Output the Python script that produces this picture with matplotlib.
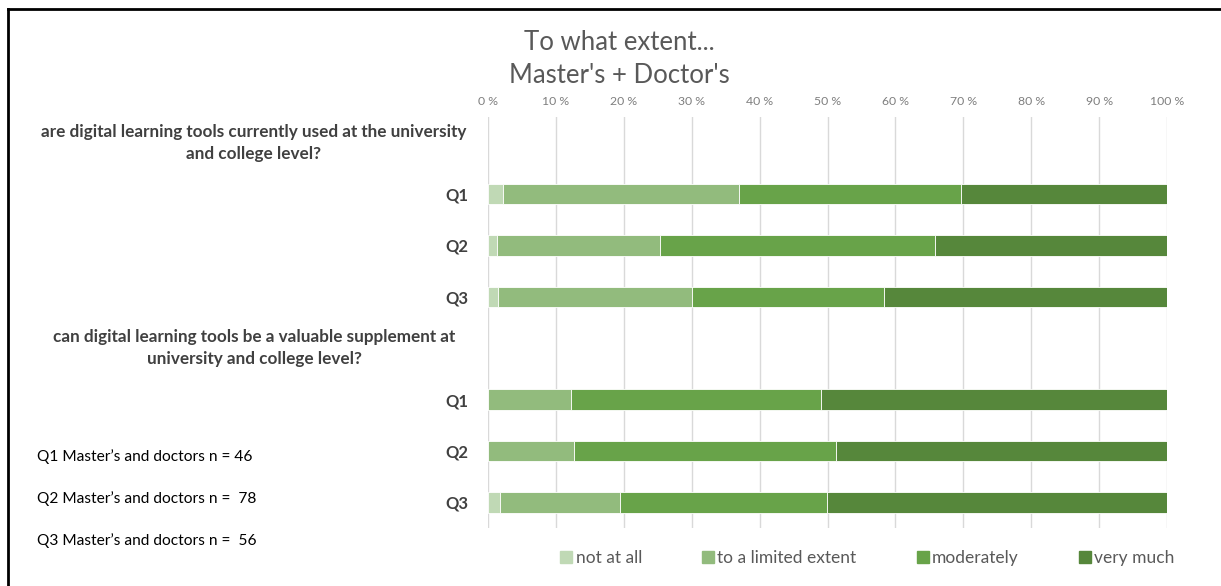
import matplotlib
matplotlib.use("Agg")
from matplotlib import pyplot as plt
from matplotlib.lines import Line2D
from matplotlib.transforms import blended_transform_factory

plt.rcParams['font.family'] = ['Lato', 'DejaVu Sans']

# data (percent of respondents)
rows = ["Q1", "Q2", "Q3", "Q1", "Q2", "Q3"]
not_at_all = [2.2, 1.3, 1.5, 0.0, 0.0, 1.7]
limited = [34.7, 24.0, 28.5, 12.2, 12.7, 17.8]
moderately = [32.7, 40.5, 28.3, 36.8, 38.6, 30.4]
very_much = [30.4, 34.2, 41.7, 51.0, 48.7, 50.1]

headers = ["are digital learning tools currently used at the university\nand college level?",
           "can digital learning tools be a valuable supplement at\nuniversity and college level?"]
series_names = ["not at all", "to a limited extent", "moderately", "very much"]
colors = ["#c0d9b5", "#92bb7d", "#68a349", "#56873b"]
notes = ["Q1 Master\u2019s and doctors n = 46",
         "Q2 Master\u2019s and doctors n =  78",
         "Q3 Master\u2019s and doctors n =  56"]

W, H = 1221, 586
fig = plt.figure(figsize=(W / 100, H / 100), dpi=100)
ax = fig.add_axes([488 / W, 1 - 528 / H, (1167 - 488) / W, (528 - 117) / H])

# row positions: header rows at 0 and 4, bars at the others
ypos = [1, 2, 3, 5, 6, 7]
left = [0] * len(rows)
for vals, name, c in zip([not_at_all, limited, moderately, very_much], series_names, colors):
    ax.barh(ypos, vals, left=left, height=0.4, color=c, edgecolor="white", linewidth=0.6, label=name, zorder=3)
    left = [l + v for l, v in zip(left, vals)]

ax.set_ylim(7.5, -0.5)
ax.set_xlim(0, 100)
ax.xaxis.tick_top()
ax.set_xticks(range(0, 101, 10))
ax.set_xticklabels(["{} %".format(t) for t in range(0, 101, 10)], fontsize=8.8, color="#7f7f7f")
ax.tick_params(axis="x", length=0, pad=7)
ax.set_yticks(ypos)
ax.set_yticklabels(rows, fontsize=12, fontweight="bold", color="#404040")
ax.tick_params(axis="y", length=0, pad=14)
ax.grid(axis="x", color="#d9d9d9", linewidth=1, zorder=0)
for s in ax.spines.values():
    s.set_visible(False)

# group headers, centred in the label column
tr = blended_transform_factory(fig.transFigure, ax.transData)
for yh, txt in zip([0, 4], headers):
    ax.text(254 / W, yh, txt, transform=tr, ha="center", va="center",
            fontsize=12.3, fontweight="bold", color="#404040", linespacing=1.45)

fig.text(619 / W, 1 - 59 / H, "To what extent...\nMaster's + Doctor's", ha="center", va="center",
         fontsize=18.5, color="#595959", linespacing=1.42)

for i, n in enumerate(notes):
    fig.text(37 / W, 1 - (457 + i * 42) / H, n, ha="left", va="center", fontsize=11.2, color="black")

handles = [Line2D([], [], marker="s", linestyle="none", markersize=8, markerfacecolor=c, markeredgecolor=c)
           for c in colors]
fig.legend(handles, series_names, loc="center", bbox_to_anchor=(866 / W, 1 - 558 / H), ncol=4,
           frameon=False, fontsize=12.5, labelcolor="#595959", handletextpad=0.05, columnspacing=3.3,
           handlelength=1.0)

# frame lines (top and left visible in the reference)
fig.add_artist(Line2D([8 / W, 1], [1 - 9 / H, 1 - 9 / H], transform=fig.transFigure, color="black", linewidth=2))
fig.add_artist(Line2D([8 / W, 8 / W], [0, 1 - 9 / H], transform=fig.transFigure, color="black", linewidth=2))

fig.savefig("out.png", dpi=100)
